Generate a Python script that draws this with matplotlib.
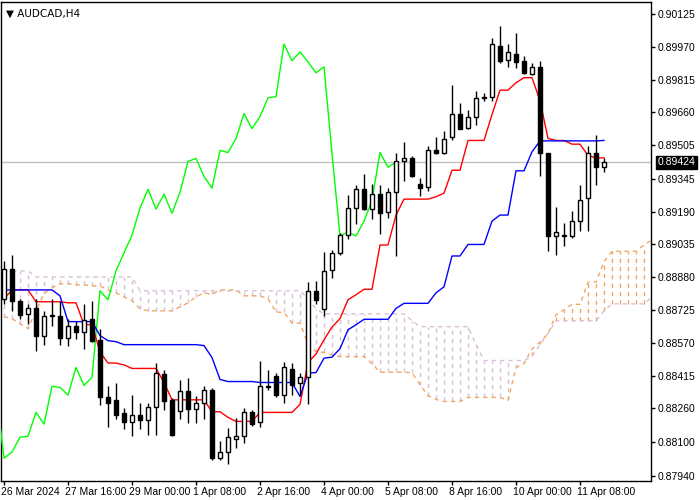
import matplotlib
matplotlib.use("Agg")
import matplotlib.pyplot as plt
import numpy as np
import pandas as pd

# H4 candles (open, high, low, close)
opens = [0.88778,0.88919,0.88769,0.88707,0.88736,0.88604,0.88703,0.88698,0.88594,0.88651,
         0.88622,0.88684,0.88585,0.88312,0.88298,0.88236,0.88194,0.88227,0.88203,0.88265,
         0.88421,0.88298,0.88246,0.88340,0.88255,0.88284,0.88345,0.88024,0.88053,0.88114,
         0.88128,0.88241,0.88194,0.88364,0.88411,0.88322,0.88448,0.88378,0.88406,0.88816,
         0.88731,0.88915,0.88995,0.89079,0.89207,0.89296,0.89202,0.89273,0.89188,0.89282,
         0.89428,0.89442,0.89320,0.89306,0.89484,0.89470,0.89541,0.89654,0.89588,0.89640,
         0.89729,0.89734,0.89976,0.89908,0.89937,0.89904,0.89842,0.89875,0.89470,0.89075,
         0.89079,0.89075,0.89145,0.89254,0.89470,0.89400]
highs = [0.88957,0.88985,0.88778,0.88754,0.88778,0.88721,0.88778,0.88769,0.88684,0.88674,
         0.88754,0.88769,0.88637,0.88364,0.88378,0.88260,0.88322,0.88284,0.88284,0.88472,
         0.88439,0.88307,0.88396,0.88401,0.88317,0.88364,0.88354,0.88105,0.88166,0.88213,
         0.88260,0.88251,0.88486,0.88439,0.88425,0.88481,0.88472,0.88425,0.88858,0.88863,
         0.88999,0.89009,0.89089,0.89268,0.89315,0.89367,0.89320,0.89315,0.89301,0.89470,
         0.89518,0.89452,0.89348,0.89503,0.89541,0.89574,0.89791,0.89702,0.89673,0.89762,
         0.89753,0.90012,0.90069,0.89983,0.90034,0.89927,0.89894,0.89904,0.89470,0.89211,
         0.89136,0.89192,0.89315,0.89503,0.89555,0.89442]
lows = [0.88754,0.88721,0.88684,0.88660,0.88533,0.88561,0.88651,0.88561,0.88557,0.88590,
        0.88542,0.88575,0.88274,0.88170,0.88208,0.88161,0.88128,0.88161,0.88133,0.88133,
        0.88251,0.88128,0.88208,0.88189,0.88189,0.88208,0.88015,0.88015,0.87995,0.88071,
        0.88095,0.88175,0.88170,0.88345,0.88312,0.88284,0.88322,0.88322,0.88279,0.88754,
        0.88698,0.88877,0.88985,0.89061,0.89131,0.89197,0.89155,0.89084,0.89160,0.88981,
        0.89334,0.89353,0.89263,0.89287,0.89461,0.89461,0.89531,0.89579,0.89579,0.89602,
        0.89715,0.89715,0.89894,0.89875,0.89871,0.89842,0.89838,0.89361,0.89004,0.88985,
        0.89028,0.89065,0.89098,0.89098,0.89315,0.89376]
closes = [0.88919,0.88769,0.88703,0.88736,0.88604,0.88698,0.88698,0.88594,0.88651,0.88622,
          0.88679,0.88580,0.88312,0.88284,0.88227,0.88194,0.88227,0.88203,0.88265,0.88425,
          0.88293,0.88133,0.88340,0.88255,0.88284,0.88345,0.88024,0.88053,0.88123,0.88128,
          0.88241,0.88185,0.88364,0.88359,0.88322,0.88453,0.88368,0.88406,0.88816,0.88773,
          0.88910,0.88995,0.89079,0.89207,0.89296,0.89202,0.89273,0.89183,0.89282,0.89428,
          0.89442,0.89357,0.89301,0.89480,0.89470,0.89536,0.89654,0.89583,0.89640,0.89729,
          0.89734,0.89983,0.89904,0.89946,0.89899,0.89847,0.89875,0.89466,0.89075,0.89094,
          0.89075,0.89145,0.89244,0.89470,0.89400,0.89424]

# indicator values before full look-back window
tenkan_early = [0.88778,0.88820,0.88820,0.88820,0.88764,0.88764,0.88764,0.88764]
kijun_early = [0.88820]*7 + [0.88792,0.88670,0.88670,0.88670,0.88670,0.88604,0.88580,0.88575] + [0.88561]*10
span_a_early = [0.88693,0.88684,0.88660,0.88637,0.88721,0.88802,0.88830,0.88849,0.88849,0.88844,
                0.88844,0.88839,0.88839,0.88820,0.88806,0.88787,0.88769,0.88731,0.88721,0.88721,
                0.88721,0.88721,0.88740,0.88759,0.88787,0.88806]
span_b = ([0.88910]*4 + [0.88881]*13 + [0.88816]*21 + [0.88778,0.88731] + [0.88707]*11 +
          [0.88674] + [0.88646]*7 + [0.88562] + [0.88486]*6 + [0.88505,0.88562,0.88613] +
          [0.88674]*6 + [0.88721] + [0.88754]*5 + [0.88787])

date_labels = ["26 Mar 2024","27 Mar 16:00","29 Mar 00:00","1 Apr 08:00","2 Apr 16:00",
               "4 Apr 00:00","5 Apr 08:00","8 Apr 16:00","10 Apr 00:00","11 Apr 08:00"]
date_idx = [0,8,16,24,32,40,48,56,64,72]
price_ticks = [0.90125,0.89970,0.89815,0.89660,0.89505,0.89345,0.89190,0.89035,0.88880,
               0.88725,0.88570,0.88415,0.88260,0.88100,0.87940]

o, h, l, c = map(np.array, (opens, highs, lows, closes))
n = len(c)
hs, ls = pd.Series(h), pd.Series(l)
tenkan = ((hs.rolling(9).max() + ls.rolling(9).min()) / 2).to_numpy()
tenkan[:8] = tenkan_early
kijun = ((hs.rolling(26).max() + ls.rolling(26).min()) / 2).to_numpy()
kijun[:25] = kijun_early
span_a = np.concatenate([span_a_early, (tenkan + kijun) / 2])
span_b = np.array(span_b)

fig = plt.figure(figsize=(7, 5), dpi=100)
ax = fig.add_axes([1/700, 19/500, 650/700, 479/500])
xi = np.arange(n)

# cloud
m = min(len(span_a), len(span_b))
xa = np.arange(m) - 0 
for j in range(m):
    a, b = span_a[j], span_b[j]
    col = "#f4a460" if a >= b else "#d8bfd8"
    ax.vlines(j, min(a, b), max(a, b), colors=col, linestyles=(0, (3, 3)), lw=1, zorder=1)
ax.plot(np.arange(len(span_a)), span_a, color="#f4a460", ls=(0, (3, 3)), lw=1, zorder=2)
ax.plot(np.arange(len(span_b)), span_b, color="#d8bfd8", ls=(0, (3, 3)), lw=1, zorder=2)

# last price line
ax.axhline(c[-1], color="#c0c0c0", lw=1, zorder=1)

# lines
ax.plot(xi - 26, c, color="#00ff00", lw=1, zorder=3)
ax.plot(xi, tenkan, color="#ff0000", lw=1, zorder=3)
ax.plot(xi, kijun, color="#0000ff", lw=1, zorder=3)

# candles
w = 0.6
for i in range(n):
    ax.vlines(i, l[i], h[i], color="black", lw=1, zorder=4)
    bot, top = min(o[i], c[i]), max(o[i], c[i])
    fc = "white" if c[i] >= o[i] else "black"
    ax.add_patch(plt.Rectangle((i - w/2, bot), w, max(top - bot, 0.000015),
                               facecolor=fc, edgecolor="black", lw=1, zorder=5))

ax.set_xlim(-0.375, 80.875)
ax.set_ylim(0.87916, 0.90182)
ax.yaxis.tick_right()
ax.set_yticks(price_ticks)
ax.set_yticklabels([f"{t:.5f}" for t in price_ticks], fontsize=7.5, family="Liberation Sans")
ax.set_xticks(date_idx)
ax.set_xticklabels(date_labels, fontsize=7.5, family="Liberation Sans", ha="left")
ax.tick_params(axis="both", direction="out", length=3, width=1, pad=2)
ax.tick_params(axis="x", pad=1)
for lab in ax.get_xticklabels():
    lab.set_x(lab.get_position()[0])
from matplotlib.transforms import ScaledTranslation
for lab in ax.get_xticklabels():
    lab.set_transform(lab.get_transform() + ScaledTranslation(-3/100, 0, fig.dpi_scale_trans))
for sp in ax.spines.values():
    sp.set_linewidth(1)

ax.text(c[-1], c[-1], "", zorder=6)
ax.annotate(f"{c[-1]:.5f}", xy=(1.0, c[-1]), xycoords=("axes fraction", "data"),
            xytext=(5, 0), textcoords="offset points", va="center", ha="left",
            fontsize=7.5, family="Liberation Sans", color="white",
            bbox=dict(boxstyle="square,pad=0.15", fc="black", ec="black"), zorder=10,
            annotation_clip=False)
ax.text(0.008, 0.985, "▼ AUDCAD,H4", transform=ax.transAxes, fontsize=7.5,
        family="DejaVu Sans", va="top", ha="left")

fig.savefig("out.png", dpi=100)
